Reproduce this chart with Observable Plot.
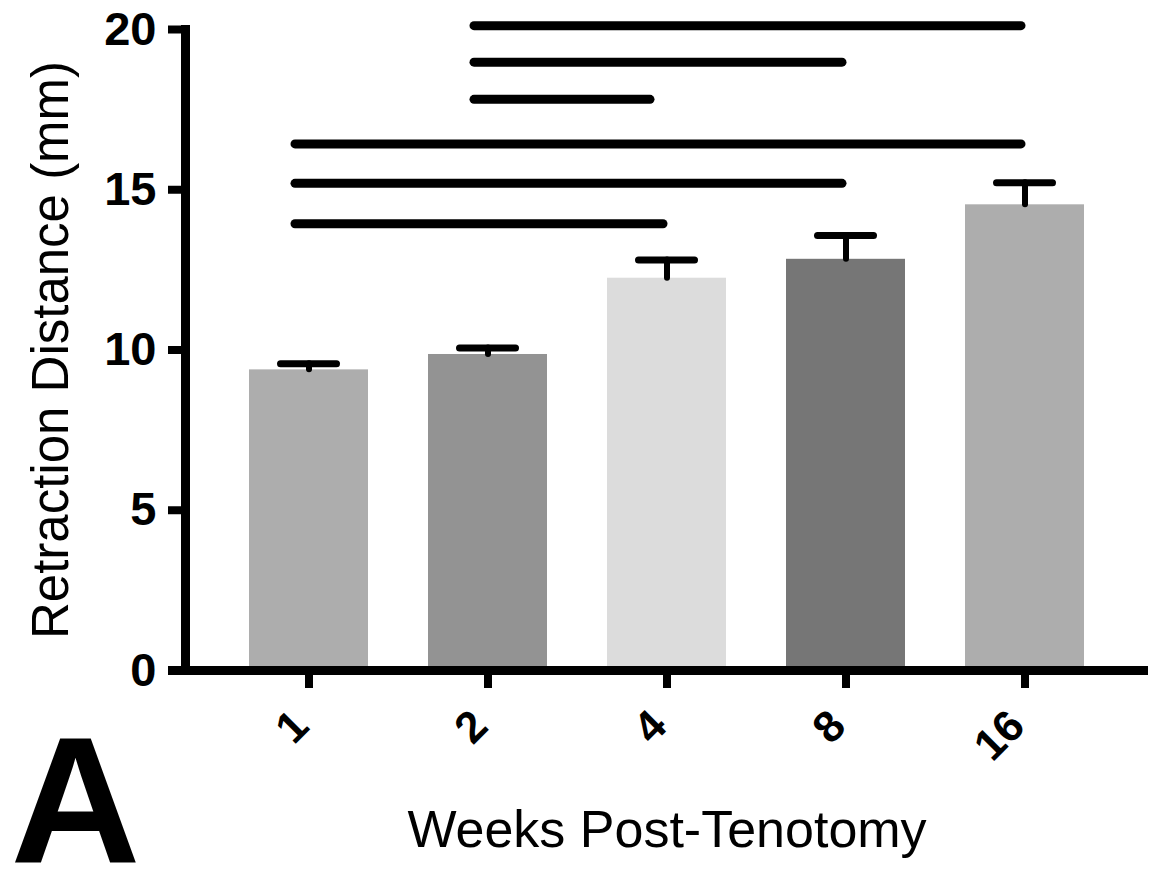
<!DOCTYPE html>
<html>
<head>
<meta charset="utf-8">
<script src="https://cdn.jsdelivr.net/npm/d3@7"></script>
<script src="https://cdn.jsdelivr.net/npm/@observablehq/plot@0.6"></script>
<style>
  html, body { margin: 0; padding: 0; background: #fff; }
</style>
</head>
<body>
<div id="chart"></div>
<script>
// ---- data ----
const weeks = ["1", "2", "4", "8", "16"];
const means = [9.38, 9.86, 12.24, 12.83, 14.53];
const errs  = [0.19, 0.20, 0.57, 0.74, 0.69];
const barFills = ["#adadad", "#939393", "#dcdcdc", "#767676", "#adadad"];
const yTicks = [0, 5, 10, 15, 20];

// significance bars: from group, to group, height
const sigFrom = ["1", "1", "1", "2", "2", "2"];
const sigTo   = ["4", "8", "16", "4", "8", "16"];
const sigY    = [13.94, 15.20, 16.43, 17.82, 18.98, 20.12];

const yTitle = "Retraction Distance (mm)";
const xTitle = "Weeks Post-Tenotomy";
const panel = "A";

const bars = weeks.map((w, i) => ({week: w, mean: means[i], err: errs[i], fill: barFills[i]}));
const sig = sigFrom.map((f, i) => ({from: f, to: sigTo[i], y: sigY[i]}));
const isShort = d => d.from === "2" && d.to === "4";

const font = "'Liberation Sans', Arial, Helvetica, sans-serif";

const chart = Plot.plot({
  width: 1152,
  height: 874,
  marginTop: 29,
  marginBottom: 204,
  marginLeft: 185,
  marginRight: 4,
  style: {fontFamily: font, background: "#fff", color: "#000"},
  x: {domain: weeks, type: "band", paddingInner: 0.334, paddingOuter: 0.344, label: null},
  y: {domain: [0, 20], label: null},
  marks: [
    Plot.barY(bars, {x: "week", y: "mean", fill: "fill"}),
    // error bars (upper only)
    Plot.ruleX(bars, {x: "week", y1: "mean", y2: d => d.mean + d.err, stroke: "#000", strokeWidth: 6, strokeLinecap: "round"}),
    Plot.tickY(bars, {x: "week", y: d => d.mean + d.err, stroke: "#000", strokeWidth: 7, strokeLinecap: "round", insetLeft: 31.5, insetRight: 31.5}),
    // significance lines
    Plot.ruleY(sig.filter(d => !isShort(d)), {x1: "from", x2: "to", y: "y", stroke: "#000", strokeWidth: 9, strokeLinecap: "round", insetLeft: 46, insetRight: 63}),
    Plot.ruleY(sig.filter(isShort), {x1: "from", x2: "to", y: "y", stroke: "#000", strokeWidth: 9, strokeLinecap: "round", insetLeft: 46, insetRight: 76}),
    // axes
    Plot.frame({anchor: "left", stroke: "#000", strokeWidth: 9}),
    Plot.ruleY([0], {stroke: "#000", strokeWidth: 9, insetLeft: -17}),
    Plot.axisY({ticks: yTicks, tickSize: 17, tickPadding: 12, strokeWidth: 8, fontSize: 47, fontWeight: "bold", label: null, fontFamily: font}),
    Plot.axisX({tickSize: 18, strokeWidth: 8, tickFormat: () => "", label: null}),
    Plot.text(weeks, {x: d => d, frameAnchor: "bottom", rotate: -45, textAnchor: "end", lineAnchor: "middle", dx: -8, dy: 48, fontSize: 44, fontWeight: "bold", fontFamily: font}),
    // titles
    Plot.text([yTitle], {frameAnchor: "left", textAnchor: "middle", lineAnchor: "middle", rotate: -90, dx: -134, fontSize: 51, fontWeight: "normal", fontFamily: font}),
    Plot.text([xTitle], {frameAnchor: "bottom", textAnchor: "middle", lineAnchor: "middle", dy: 160, fontSize: 52, fontWeight: "normal", fontFamily: font}),
    Plot.text([panel], {frameAnchor: "bottom-left", textAnchor: "middle", lineAnchor: "middle", dx: -110, dy: 135, fontSize: 180, fontWeight: "bold", fontFamily: font})
  ]
});
document.getElementById("chart").appendChild(chart);
</script>
</body>
</html>
